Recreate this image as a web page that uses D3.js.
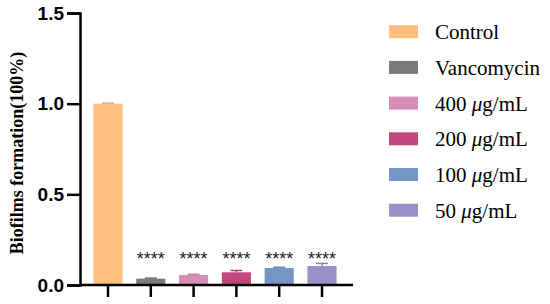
<!DOCTYPE html>
<html>
<head>
<meta charset="utf-8">
<script src="https://cdn.jsdelivr.net/npm/d3@7"></script>
<style>
  body { margin: 0; background: #fff; }
  svg { display: block; }
</style>
</head>
<body>
<div id="chart"></div>
<script>
// values
var groups = ["Control", "Vancomycin", "400 μg/mL", "200 μg/mL", "100 μg/mL", "50 μg/mL"];
var means = [1.0, 0.035, 0.055, 0.07, 0.094, 0.105];
var errs = [0.003, 0.003, 0.004, 0.01, 0.004, 0.014];
var stars = ["", "****", "****", "****", "****", "****"];
var colors = ["#fdbf7e", "#7b7b7d", "#d98db6", "#c4467f", "#7596c4", "#9b90c8"];
var yTicks = [0, 0.5, 1.0, 1.5];

var width = 550, height = 304;

var svg = d3.select("#chart").append("svg")
    .attr("width", width)
    .attr("height", height);

var x = d3.scaleBand().domain(groups).range([86.6, 343.4]).paddingInner(0.32).paddingOuter(0.16),
    y = d3.scaleLinear().domain([0, 1.5]).range([285, 13]);

// bars
svg.selectAll(".bar").data(groups).enter().append("rect")
    .attr("class", "bar")
    .attr("x", function(d) { return x(d); })
    .attr("width", x.bandwidth())
    .attr("y", function(d, i) { return y(means[i]); })
    .attr("height", function(d, i) { return y(0) - y(means[i]); })
    .attr("fill", function(d, i) { return colors[i]; });

// error bars (upper only)
var eb = svg.selectAll(".err").data(groups).enter().append("g")
    .attr("stroke", function(d, i) { return d3.color(colors[i]).darker(0.3); })
    .attr("stroke-width", 1.5);
eb.append("line")
    .attr("x1", function(d) { return x(d) + x.bandwidth() / 2; })
    .attr("x2", function(d) { return x(d) + x.bandwidth() / 2; })
    .attr("y1", function(d, i) { return y(means[i]); })
    .attr("y2", function(d, i) { return y(means[i] + errs[i]); });
eb.append("line")
    .attr("x1", function(d) { return x(d) + x.bandwidth() / 2 - 6; })
    .attr("x2", function(d) { return x(d) + x.bandwidth() / 2 + 6; })
    .attr("y1", function(d, i) { return y(means[i] + errs[i]); })
    .attr("y2", function(d, i) { return y(means[i] + errs[i]); });

// significance stars
svg.selectAll(".star").data(groups).enter().append("text")
    .attr("x", function(d) { return x(d) + x.bandwidth() / 2; })
    .attr("y", 265)
    .attr("text-anchor", "middle")
    .style("font-family", "Liberation Sans, Arial, sans-serif")
    .style("font-size", "18px")
    .attr("fill", "#222")
    .text(function(d, i) { return stars[i]; });

// y axis
var yAxis = svg.append("g")
    .attr("transform", "translate(80,0)")
    .call(d3.axisLeft(y).tickValues(yTicks).tickFormat(d3.format(".1f")).tickSize(13).tickPadding(3));
yAxis.select(".domain").attr("stroke-width", 2.5);
yAxis.selectAll(".tick line").attr("stroke-width", 2.5);
yAxis.selectAll("text")
    .style("font-family", "Liberation Sans, Arial, sans-serif")
    .style("font-size", "19px")
    .style("font-weight", "bold")
    .attr("fill", "#000");

// x axis
var xAxis = svg.append("g")
    .attr("transform", "translate(0,285)")
    .call(d3.axisBottom(x).tickSize(12).tickFormat(""));
xAxis.select(".domain").attr("d", "M80,0H353").attr("stroke-width", 2.5);
xAxis.selectAll(".tick line").attr("stroke-width", 2.5);

// y title
svg.append("text")
    .attr("transform", "translate(23,153) rotate(-90)")
    .attr("text-anchor", "middle")
    .style("font-family", "Liberation Serif, Times New Roman, serif")
    .style("font-size", "18px")
    .style("font-weight", "bold")
    .text("Biofilms formation(100%)");

// legend
var legend = svg.selectAll(".leg").data(groups).enter().append("g")
    .attr("transform", function(d, i) { return "translate(389," + (31.7 + i * 35.7) + ")"; });
legend.append("rect")
    .attr("x", 0).attr("y", -6.5)
    .attr("width", 29).attr("height", 13)
    .attr("fill", function(d, i) { return colors[i]; });
legend.append("text")
    .attr("x", 46).attr("y", 7.5)
    .style("font-family", "Liberation Serif, Times New Roman, serif")
    .style("font-size", "21px")
    .html(function(d) {
        var parts = d.split(" μg/mL");
        if (parts.length > 1) return parts[0] + " <tspan font-style='italic'>μ</tspan>g/mL";
        return d;
    });
</script>
</body>
</html>
